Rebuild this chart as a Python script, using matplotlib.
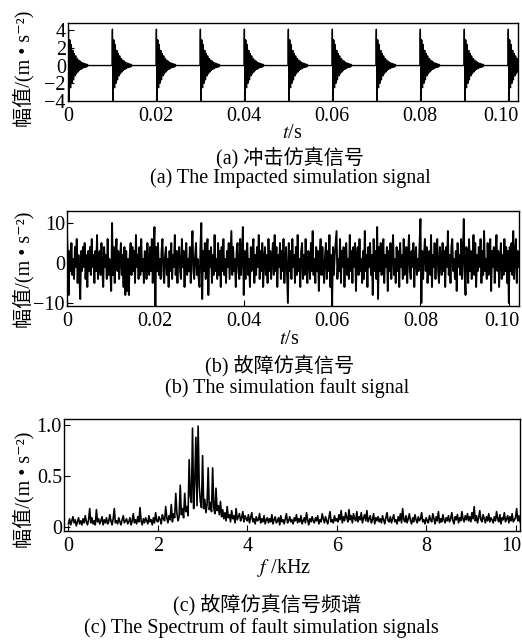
import numpy as np
import matplotlib
matplotlib.use("Agg")
import matplotlib.pyplot as plt
from matplotlib.transforms import ScaledTranslation

plt.rcParams['font.family'] = ['Liberation Serif', 'Noto Sans CJK SC', 'DejaVu Serif']
plt.rcParams['mathtext.fontset'] = 'stix'
plt.rcParams['font.size'] = 14.5
plt.rcParams['axes.linewidth'] = 1.0

# (a) impacts: one ringing response (m/s^2) sampled at 20 kHz, repeated every 10 ms
fs_impact = 20000
impact_times = [0.0, 0.01, 0.02, 0.03, 0.04, 0.05, 0.06, 0.07, 0.08, 0.09, 0.10]
impact_response = [
    0.0, 2.9, 4.1, 1.2, -2.3, -4.0, -2.0, 1.0, 2.9, 2.4,
    0.0, -2.2, -2.5, -0.8, 1.45, 2.36, 1.34, -0.68, -2.0, -1.64,
    0.0, 1.52, 1.71, 0.54, -0.98, -1.61, -0.91, 0.46, 1.36, 1.12,
    0.0, -1.03, -1.17, -0.37, 0.67, 1.09, 0.62, -0.31, -0.93, -0.76,
    0.0, 0.70, 0.79, 0.25, -0.46, -0.74, -0.42, 0.21, 0.63, 0.52,
    0.0, -0.48, -0.54, -0.17, 0.31, 0.51, 0.29, -0.15, -0.43, -0.35,
    0.0, 0.33, 0.37, 0.12, -0.21, -0.35, -0.20, 0.10, 0.29, 0.24,
    0.0, -0.22, -0.25, -0.08, 0.14, 0.24, 0.13, -0.07, -0.20, -0.16,
    0.0, 0.15, 0.17, 0.05, -0.10, -0.16, -0.09, 0.05, 0.13, 0.11,
]

# (b) fault signal (m/s^2), one value every 0.2 ms
fault_dt = 0.0002
fault_signal = [
    7, 2, -8, 3, -2, 5, -3, 1, -4, 4, -1, 6, -5, 2, -3, -9, 3, -2, 4, -1, 5, -4, 2, -6, 3,
    -2, 4, -3, 6, -1, 2, -5, 3, -2, 7, -4, 1, 3, -3, 5, -2, -6, 4, -1, 2, -4, 6, -3, 1, -2,
    -7, 10, -3, 4, -5, 2, 6, -2, 3, -4, 1, 5, -3, 2, -6, 4, -8, 3, -7, 1, -8, 2, 5, -3, 4,
    -2, 3, -5, 7, -1, 2, -4, 4, -3, 6, -2, 1, -5, 3, 2, -4, 5, -1, -3, 4, -2, 6, -5, 3, 9,
    -11, 4, -2, 5, -3, 1, -4, 3, 6, -2, -5, 2, 4, -3, 1, -6, 3, -2, 5, -4, 2, -1, 7, -3, 3,
    -5, 2, 4, -2, -4, 6, -1, 3, -6, 2, 5, -3, 1, -2, 4, -5, 3, 8, -2, -4, 2, 5, -3, 1, -4,
    -6, 4, 10, -9, 3, -2, 5, -4, 2, 6, -8, 3, -1, 4, -5, 2, -3, 7, -2, 1, -4, 5, -3, 3, -6,
    4, -2, 6, -3, 1, -5, 3, -1, 5, -4, 2, 8, -3, 4, -2, 1, -6, 3, 5, -2, -4, 6, -3, 2, 9,
    -8, 3, -4, 2, 5, -3, 1, -6, 4, -2, 3, 6, -5, 2, -3, 4, -1, 7, -4, 3, -2, 5, -6, 1, 4,
    -3, 2, -5, 6, -2, 3, -4, 1, 5, -3, 7, -2, 4, -6, 2, -1, 5, -4, 3, -2, 6, -5, 1, 4, -3,
    -10, 5, -2, 3, -4, 6, -1, 2, -5, 4, -3, 7, -2, 1, -6, 3, 5, -4, 2, -3, 6, -1, -5, 3, 2,
    -4, 5, -2, 8, -3, 1, -5, 4, -2, 3, -7, 2, 6, -3, 4, -1, -5, 2, 5, -4, 3, -2, 7, -6, 2,
    -11, 4, -3, 2, 5, 8, -4, 1, -2, 6, -5, 3, -1, 4, -6, 2, 5, -3, 1, -4, 7, -2, 3, -5, 4,
    -1, 5, -7, 2, 4, -3, 6, -2, 1, -5, 3, -4, 8, -2, 2, -6, 4, -1, 5, -3, 2, -8, 6, -2, 3,
    -4, 9, -9, 4, -2, 5, -3, 1, 6, -5, 2, -1, 4, -7, 3, -2, 5, -4, 2, 7, -3, 1, -5, 4, -2,
    3, -6, 5, -1, 2, -4, 6, -3, 1, 4, -5, 2, 7, -2, -4, 3, -1, 5, -6, 2, 4, -3, 1, -2, 5,
    11, -10, 3, -4, 2, 6, -2, 4, -5, 1, 3, -3, 7, -6, 2, -1, 5, -4, 3, 6, -2, -5, 4, 1, -3,
    5, -2, 3, -6, 4, -1, 8, -3, 2, -5, 4, 6, -2, 1, -4, 3, -7, 5, -1, 2, -3, 6, -4, 2, 11,
    -3, -8, 4, 2, -5, 6, -2, 3, -4, 1, 7, -3, 5, -6, 2, -2, 4, -1, 6, -5, 3, -3, 8, -2, 1,
    -4, 5, -3, 2, 6, -7, 3, -1, 4, -5, 2, 7, -2, 3, -6, 1, 5, -4, 2, -3, 6, -2, 4, -5, 3,
    -10, 4, -2, 5, -3, 8, -4, 2, 6, -5, 3, -1,
]

# (c) amplitude spectrum of the fault signal, in 0.01 m/s^2, 25 Hz bins from 0 Hz
spec_df = 0.025  # kHz
spectrum = [
    3, 8, 2, 6, 10, 4, 7, 1, 5, 9, 3, 6, 2, 8, 4, 11, 5, 2, 7, 18,
    4, 9, 3, 6, 2, 17, 5, 8, 3, 6, 10, 2, 7, 4, 9, 3, 5, 12, 6, 2,
    8, 18, 4, 6, 3, 9, 5, 2, 7, 11, 4, 6, 8, 3, 5, 9, 2, 6, 13, 4,
    7, 3, 10, 5, 19, 6, 2, 8, 4, 9, 6, 3, 11, 5, 7, 2, 9, 4, 14, 6,
    5, 10, 7, 3, 12, 8, 6, 20, 9, 4, 11, 7, 22, 5, 13, 9, 33, 14, 6, 10,
    41, 12, 18, 9, 33, 15, 20, 11, 66, 30, 24, 97, 18, 45, 88, 21, 99, 40, 25, 19,
    70, 18, 27, 14, 22, 58, 17, 24, 15, 58, 19, 13, 38, 16, 21, 12, 25, 10, 17, 8,
    14, 6, 20, 9, 12, 5, 16, 8, 11, 4, 18, 7, 10, 13, 6, 9, 15, 5, 11, 8,
    6, 12, 4, 9, 14, 5, 8, 3, 10, 6, 7, 13, 4, 8, 5, 11, 3, 7, 9, 4,
    8, 5, 12, 3, 7, 10, 4, 6, 9, 2, 11, 5, 7, 3, 8, 13, 4, 6, 10, 5,
    7, 3, 9, 6, 12, 4, 8, 5, 11, 3, 6, 9, 4, 14, 7, 2, 8, 5, 10, 6,
    4, 9, 6, 11, 3, 7, 5, 13, 8, 4, 10, 6, 3, 9, 15, 5, 7, 4, 11, 6,
    8, 5, 12, 7, 16, 4, 10, 6, 14, 9, 5, 17, 7, 11, 4, 13, 8, 6, 15, 5,
    10, 7, 14, 4, 9, 12, 6, 16, 5, 8, 11, 4, 7, 13, 3, 9, 6, 10, 5, 8,
    4, 11, 7, 3, 9, 14, 6, 5, 10, 4, 8, 12, 5, 7, 3, 10, 6, 13, 4, 18,
    7, 5, 11, 4, 8, 13, 6, 3, 9, 5, 12, 7, 4, 10, 6, 8, 14, 5, 7, 3,
    9, 6, 4, 11, 7, 5, 13, 8, 3, 10, 6, 15, 4, 8, 5, 12, 7, 4, 9, 6,
    11, 5, 8, 14, 6, 3, 10, 7, 12, 4, 9, 6, 15, 8, 5, 11, 7, 13, 6, 10,
    5, 14, 8, 20, 6, 11, 4, 9, 16, 7, 5, 12, 8, 4, 10, 6, 13, 5, 9, 7,
    4, 10, 6, 15, 8, 5, 12, 3, 9, 7, 14, 5, 8, 11, 4, 10, 6, 13, 5, 7,
    9, 18, 6, 11, 5,
]

time_ticks = [0, 0.02, 0.04, 0.06, 0.08, 0.10]
time_ticklabels = ['0', '0.02', '0.04', '0.06', '0.08', '0.10']
ylabel = '幅值/(m • s⁻²)'

W, H = 522, 642
fig = plt.figure(figsize=(W / 100, H / 100), dpi=100)


def add_axes_px(left, top, right, bottom):
    return fig.add_axes([left / W, 1 - bottom / H, (right - left) / W, (bottom - top) / H])


def text_px(x, y, s, **kw):
    fig.text(x / W, 1 - y / H, s, ha='center', va='center', **kw)


def style_axes(ax):
    ax.tick_params(direction='in', length=4, width=0.8, top=False, right=False)
    ax.tick_params(axis='y', pad=1.5)
    ax.tick_params(axis='x', pad=4)


def shift_last_xlabel(ax, dx):
    lab = ax.get_xticklabels()[-1]
    lab.set_transform(lab.get_transform() + ScaledTranslation(dx / 100, 0, fig.dpi_scale_trans))


# (a) impacted simulation signal
n_a = int(0.1023 * fs_impact) + 1
t_a = np.arange(n_a) / fs_impact
sig_a = np.zeros(n_a)
for ti in impact_times:
    i0 = int(round(ti * fs_impact))
    seg = impact_response[:n_a - i0]
    sig_a[i0:i0 + len(seg)] = seg

ax1 = add_axes_px(68, 23, 518, 101)
ax1.plot(t_a, sig_a, color='k', lw=1.0)
ax1.set_xlim(0, 0.1023)
ax1.set_ylim(-4, 4.8)
ax1.set_yticks([-4, -2, 0, 2, 4])
ax1.set_xticks(time_ticks)
ax1.set_xticklabels(time_ticklabels)
style_axes(ax1)
shift_last_xlabel(ax1, -7)

# (b) simulated fault signal
t_b = np.arange(len(fault_signal)) * fault_dt
ax2 = add_axes_px(67, 211, 519, 306)
ax2.plot(t_b, fault_signal, color='k', lw=1.35)
ax2.set_xlim(0, 0.1023)
ax2.set_ylim(-10.75, 13)
ax2.set_yticks([-10, 0, 10])
ax2.set_xticks(time_ticks)
ax2.set_xticklabels(time_ticklabels)
style_axes(ax2)
shift_last_xlabel(ax2, -7)

# (c) spectrum of the fault signal
f_c = np.arange(len(spectrum)) * spec_df
amp_c = np.array(spectrum) / 100
ax3 = add_axes_px(64, 419, 520, 531)
ax3.plot(f_c, amp_c, color='k', lw=1.2)
ax3.set_xlim(-0.1, 10.1)
ax3.set_ylim(-0.04, 1.06)
ax3.set_yticks([0, 0.5, 1.0])
ax3.set_yticklabels(['0', '0.5', '1.0'])
ax3.set_xticks([0, 2, 4, 6, 8, 10])
ax3.set_xticklabels(['0', '2', '4', '6', '8', '10'])
style_axes(ax3)
shift_last_xlabel(ax3, -4)

# axis titles and captions
for yc in (69, 270, 490):
    text_px(24, yc, ylabel, rotation=90)

text_px(292, 133, r'$t$/s')
text_px(289, 339, r'$t$/s')
text_px(284, 568, r'$f$ /kHz')

text_px(290, 158, '(a) 冲击仿真信号')
text_px(290, 178, '(a) The Impacted simulation signal')
text_px(280, 366, '(b) 故障仿真信号')
text_px(287, 388, '(b) The simulation fault signal')
text_px(267, 605, '(c) 故障仿真信号频谱')
text_px(261, 628, '(c) The Spectrum of fault simulation signals')

fig.savefig('out.png', dpi=100)
